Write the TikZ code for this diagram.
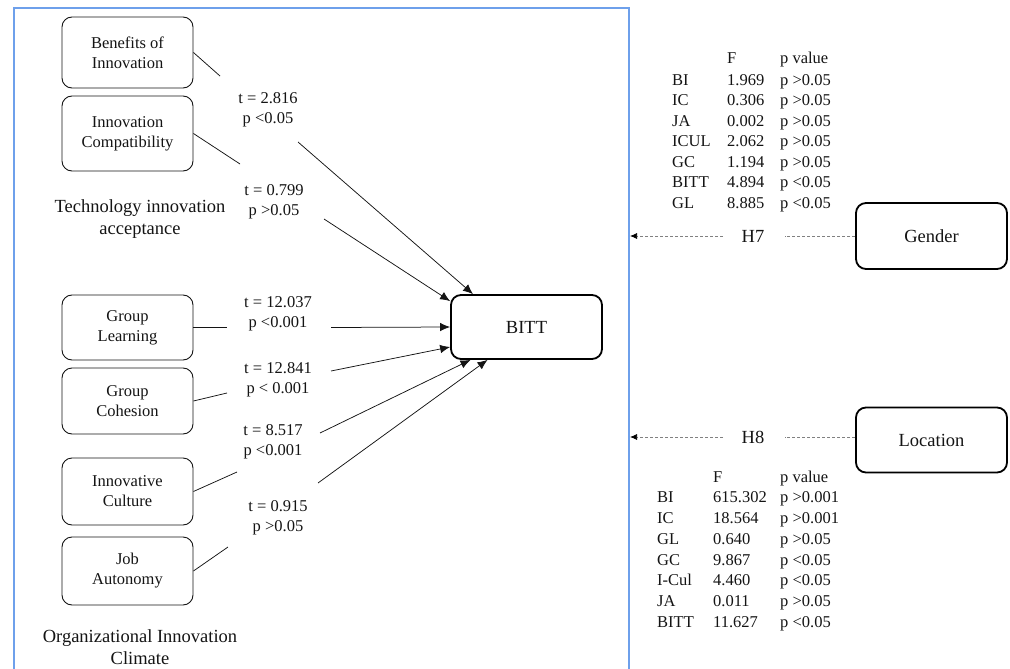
\documentclass[tikz,border=0pt]{standalone}
\usepackage{fontspec}
\setmainfont{Liberation Serif}
\usetikzlibrary{arrows.meta}
\definecolor{frameblue}{RGB}{110,160,235}
\definecolor{ink}{RGB}{20,20,20}
\newcommand\fsmall{\fontsize{16.5}{20}\selectfont}
\newcommand\flarge{\fontsize{18.5}{22}\selectfont}
\tikzset{
  factor/.style={draw=ink, line width=0.9pt, rounded corners=10pt, minimum width=131pt,
    align=center, font=\fsmall, inner sep=0pt, text=ink},
  mainbox/.style={draw=black, line width=1.8pt, rounded corners=10pt, minimum width=151pt,
    align=center, font=\flarge, inner sep=0pt, text=ink},
  stat/.style={align=center, font=\fsmall, inner sep=0pt, text=ink},
  hyp/.style={font=\flarge, inner sep=0pt, text=ink},
  cell/.style={anchor=base west, font=\fsmall, inner sep=0pt, text=ink},
  caption/.style={align=center, font=\flarge, inner sep=0pt, text=ink},
  link/.style={draw=ink, line width=0.75pt},
  arrowlink/.style={link, -{Latex[length=10pt,width=8.5pt]}},
  modlink/.style={draw=gray, line width=0.75pt, dash pattern=on 3pt off 2pt},
  modarrow/.style={modlink, -{Latex[length=7pt,width=6pt,black]}},
}
\begin{document}
\begin{tikzpicture}[x=1pt,y=-1pt]
\useasboundingbox (0,0) rectangle (1010,669);
% frame
\draw[frameblue, line width=1.2pt] (14,669) -- (14,8) -- (629,8) -- (629,669);

% factor boxes
\node[factor, minimum height=71pt] (bi)  at (127.5,52.5)  {Benefits of\\Innovation};
\node[factor, minimum height=75pt] (ic)  at (127.5,133.5) {Innovation\\Compatibility};
\node[factor, minimum height=65pt] (gl)  at (127.5,327.5) {Group\\Learning};
\node[factor, minimum height=66pt] (gc)  at (127.5,401)   {Group\\Cohesion};
\node[factor, minimum height=67pt] (icu) at (127.5,491.5) {Innovative\\Culture};
\node[factor, minimum height=68pt] (ja)  at (127.5,571)   {Job\\Autonomy};

\node[caption] (tia) at (140,219) {Technology innovation\\acceptance};
\node[caption] (oic) at (140,647) {Organizational Innovation\\Climate};

% main boxes
\node[mainbox, minimum height=64pt] (bitt)   at (526.5,327) {BITT};
\node[mainbox, minimum height=66pt] (gender) at (931.5,236) {Gender};
\node[mainbox, minimum height=65pt] (loc)    at (931.5,440) {Location};

% statistics labels
\node[stat] (s1) at (268,110) {t = 2.816\\p <0.05};
\node[stat] (s2) at (274,202) {t = 0.799\\p >0.05};
\node[stat] (s3) at (278,314) {t = 12.037\\p <0.001};
\node[stat] (s4) at (278,380) {t = 12.841\\p < 0.001};
\node[stat] (s5) at (273,442) {t = 8.517\\p <0.001};
\node[stat] (s6) at (278,518) {t = 0.915\\p >0.05};

% gap coordinates
\coordinate (bi1) at (220,76);   \coordinate (bi2) at (298,142);
\coordinate (ic1) at (240,164);  \coordinate (ic2) at (324,219);
\coordinate (gl1) at (227,327.5);\coordinate (gl2) at (331,327.5);
\coordinate (gc1) at (227,393);  \coordinate (gc2) at (331,371);
\coordinate (cu1) at (237,472);  \coordinate (cu2) at (320,433);
\coordinate (ja1) at (228,547);  \coordinate (ja2) at (318,483);

\draw[link] (bi.east) -- (bi1);
\draw[arrowlink] (bi2) -- ([xshift=-53.5pt]bitt.north);
\draw[link] (ic.east) -- (ic1);
\draw[arrowlink] (ic2) -- ([yshift=-7pt]bitt.north west);
\draw[link] (gl.east) -- (gl1);
\draw[arrowlink] (gl2) -- (bitt.west);
\draw[link] (gc.east) -- (gc1);
\draw[arrowlink] (gc2) -- ([yshift=-20pt]bitt.west);
\draw[link] (icu.east) -- (cu1);
\draw[arrowlink] (cu2) -- ([xshift=-56pt]bitt.south);
\draw[link] (ja.east) -- (ja1);
\draw[arrowlink] (ja2) -- ([xshift=-39pt]bitt.south);

% moderators
\coordinate (h7a) at (785,236); \coordinate (h7b) at (723,236); \coordinate (h7end) at (630,236);
\node[hyp] (h7) at (753,236) {H7};
\draw[modlink] (gender.west) -- (h7a);
\draw[modarrow] (h7b) -- (h7end);

\coordinate (h8a) at (785,437); \coordinate (h8b) at (723,437); \coordinate (h8end) at (630,437);
\node[hyp] (h8) at (753,437) {H8};
\draw[modlink] ([yshift=3pt]loc.west) -- (h8a);
\draw[modarrow] (h8b) -- (h8end);

% gender table
\node[cell] (gfh) at (727,63.3) {F};
\node[cell] (gph) at (780,63.3) {p value};
\foreach \lab/\f/\p [count=\i] in {BI/1.969/p >0.05, IC/0.306/p >0.05, JA/0.002/p >0.05,
    ICUL/2.062/p >0.05, GC/1.194/p >0.05, BITT/4.894/p <0.05, GL/8.885/p <0.05}{
  \node[cell] (ga-\i) at (672,{64.8+20.5*\i}) {\lab};
  \node[cell] (gf-\i) at (727,{64.8+20.5*\i}) {\f};
  \node[cell] (gp-\i) at (780,{64.8+20.5*\i}) {\p};
}

% location table
\node[cell] (lfh) at (713,482.3) {F};
\node[cell] (lph) at (780,482.3) {p value};
\foreach \lab/\f/\p [count=\i] in {BI/615.302/p >0.001, IC/18.564/p >0.001, GL/0.640/p >0.05,
    GC/9.867/p <0.05, I-Cul/4.460/p <0.05, JA/0.011/p >0.05, BITT/11.627/p <0.05}{
  \node[cell] (la-\i) at (657,{481.8+20.8*\i}) {\lab};
  \node[cell] (lf-\i) at (713,{481.8+20.8*\i}) {\f};
  \node[cell] (lp-\i) at (780,{481.8+20.8*\i}) {\p};
}
\end{tikzpicture}
\end{document}
